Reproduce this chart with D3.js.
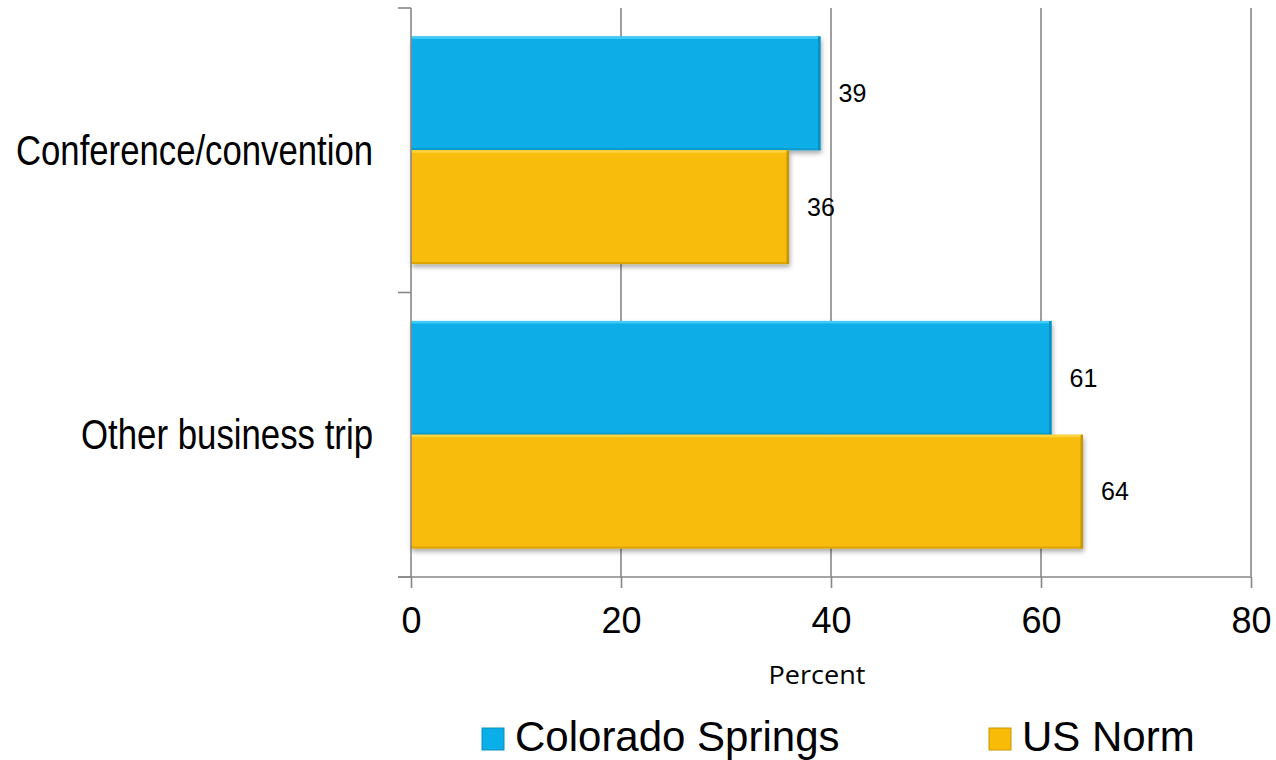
<!DOCTYPE html>
<html>
<head>
<meta charset="utf-8">
<script src="https://cdn.jsdelivr.net/npm/d3@7"></script>
<style>
  html, body { margin: 0; padding: 0; background: #fff; }
  svg { display: block; }
</style>
</head>
<body>
<script>
// Trip purpose shares, Colorado Springs vs US norm
const categories = ["Conference/convention", "Other business trip"];
const seriesNames = ["Colorado Springs", "US Norm"];
const coloradoSprings = [39, 61];
const usNorm = [36, 64];
const xTicks = [0, 20, 40, 60, 80];

const W = 1276, H = 760;
const colors = { "Colorado Springs": "#0AAEE8", "US Norm": "#F8BC08" };
const edgeLight = { "Colorado Springs": "#3FCBF7", "US Norm": "#FFD43A" };
const edgeDark = { "Colorado Springs": "#0A8FC0", "US Norm": "#C99500" };
// condensed widths for the category labels
const catLabelWidth = [357, 292];

const margin = { left: 411, right: 25, top: 8, bottom: 183 };
const plotW = W - margin.left - margin.right;
const plotH = H - margin.top - margin.bottom;

const svg = d3.select("body").append("svg").attr("width", W).attr("height", H);

const defs = svg.append("defs");
const f = defs.append("filter").attr("id", "shadow").attr("x", "-5%").attr("y", "-5%").attr("width", "115%").attr("height", "125%");
f.append("feGaussianBlur").attr("in", "SourceAlpha").attr("stdDeviation", 2.5).attr("result", "b");
f.append("feOffset").attr("in", "b").attr("dx", 1).attr("dy", 3).attr("result", "o");
f.append("feComponentTransfer").attr("in", "o").attr("result", "s")
  .append("feFuncA").attr("type", "linear").attr("slope", 0.35);
const m = f.append("feMerge");
m.append("feMergeNode").attr("in", "s");
m.append("feMergeNode").attr("in", "SourceGraphic");

const x = d3.scaleLinear().domain([0, 80]).range([0, plotW]);
// each category occupies an equal slice; bars fill the middle 80%
const yEdge = d3.scaleLinear().domain([0, categories.length]).range([0, plotH]);
const y = d3.scaleBand().domain(categories).range([0, plotH]).paddingInner(0.2).paddingOuter(0.1);
const ySub = d3.scaleBand().domain(seriesNames).range([0, y.bandwidth()]);

const g = svg.append("g").attr("transform", `translate(${margin.left},${margin.top})`);

const axisColor = "#878787";

// vertical gridlines
g.selectAll(".grid").data(xTicks.slice(1)).join("line")
  .attr("x1", d => x(d)).attr("x2", d => x(d))
  .attr("y1", 0).attr("y2", plotH)
  .attr("stroke", axisColor).attr("stroke-width", 1.6);

// bars
const rows = categories.map((c, i) => ({
  cat: c,
  vals: [
    { s: seriesNames[0], v: coloradoSprings[i] },
    { s: seriesNames[1], v: usNorm[i] }
  ]
}));

const catG = g.selectAll(".cat").data(rows).join("g")
  .attr("transform", d => `translate(0,${y(d.cat)})`);

const barG = catG.selectAll(".bar").data(d => d.vals).join("g");

barG.append("rect")
  .attr("x", 0).attr("y", d => ySub(d.s))
  .attr("width", d => x(d.v)).attr("height", ySub.bandwidth())
  .attr("fill", d => colors[d.s])
  .attr("filter", "url(#shadow)");
// bevel edges
barG.append("rect")
  .attr("x", 0).attr("y", d => ySub(d.s))
  .attr("width", d => x(d.v)).attr("height", 2.5)
  .attr("fill", d => edgeLight[d.s]);
barG.append("rect")
  .attr("x", d => x(d.v) - 2.5).attr("y", d => ySub(d.s))
  .attr("width", 2.5).attr("height", ySub.bandwidth())
  .attr("fill", d => edgeDark[d.s]);
barG.append("rect")
  .attr("x", 0).attr("y", d => ySub(d.s) + ySub.bandwidth() - 2)
  .attr("width", d => x(d.v)).attr("height", 2)
  .attr("fill", d => edgeDark[d.s]).attr("opacity", 0.6);

// value labels
barG.append("text")
  .attr("x", d => x(d.v) + 18)
  .attr("y", d => ySub(d.s) + ySub.bandwidth() / 2)
  .attr("dy", "0.35em")
  .attr("font-family", "'Liberation Sans', Arial, sans-serif")
  .attr("font-size", 25)
  .attr("fill", "#000")
  .text(d => d.v);

// x axis
const xAxis = g.append("g").attr("transform", `translate(0,${plotH})`)
  .call(d3.axisBottom(x).tickValues(xTicks).tickSize(11).tickPadding(19).tickFormat(d3.format("d")));
xAxis.select(".domain").remove();
xAxis.append("line").attr("x1", -13).attr("x2", plotW).attr("y1", 0).attr("y2", 0)
  .attr("stroke", axisColor).attr("stroke-width", 1.6);
xAxis.selectAll(".tick line").attr("stroke", axisColor).attr("stroke-width", 1.6);
xAxis.selectAll(".tick text")
  .attr("font-family", "'Liberation Sans', Arial, sans-serif")
  .attr("font-size", 36).attr("fill", "#000");

// y axis
const yAxis = g.append("g");
yAxis.append("line").attr("x1", 0).attr("x2", 0).attr("y1", 0).attr("y2", plotH)
  .attr("stroke", axisColor).attr("stroke-width", 1.6);
yAxis.selectAll(".ytick").data(d3.range(categories.length + 1)).join("line")
  .attr("x1", -13).attr("x2", 0)
  .attr("y1", d => yEdge(d)).attr("y2", d => yEdge(d))
  .attr("stroke", axisColor).attr("stroke-width", 1.6);
yAxis.selectAll(".ylab").data(categories).join("text")
  .attr("x", -38)
  .attr("y", (d, i) => (yEdge(i) + yEdge(i + 1)) / 2)
  .attr("dy", "0.35em")
  .attr("text-anchor", "end")
  .attr("font-family", "'Liberation Sans Narrow', 'Arial Narrow', 'Liberation Sans', sans-serif")
  .attr("font-size", 42)
  .attr("textLength", (d, i) => catLabelWidth[i])
  .attr("lengthAdjust", "spacingAndGlyphs")
  .attr("fill", "#000")
  .text(d => d);

// axis title
svg.append("text")
  .attr("x", 817).attr("y", 684)
  .attr("text-anchor", "middle")
  .attr("font-family", "'Open Sans', sans-serif")
  .attr("font-size", 25).attr("fill", "#000")
  .attr("textLength", 97).attr("lengthAdjust", "spacingAndGlyphs")
  .text("Percent");

// legend
const legendX = [482, 989];
const leg = svg.selectAll(".leg").data(seriesNames).join("g")
  .attr("transform", (d, i) => `translate(${legendX[i]},728)`);
leg.append("rect").attr("width", 22).attr("height", 22)
  .attr("fill", d => colors[d]).attr("stroke", d => edgeDark[d]).attr("stroke-width", 1);
leg.append("text")
  .attr("x", 33).attr("y", 23)
  .attr("font-family", "'Liberation Sans', Arial, sans-serif")
  .attr("font-size", 42).attr("fill", "#000")
  .text(d => d);
</script>
</body>
</html>
